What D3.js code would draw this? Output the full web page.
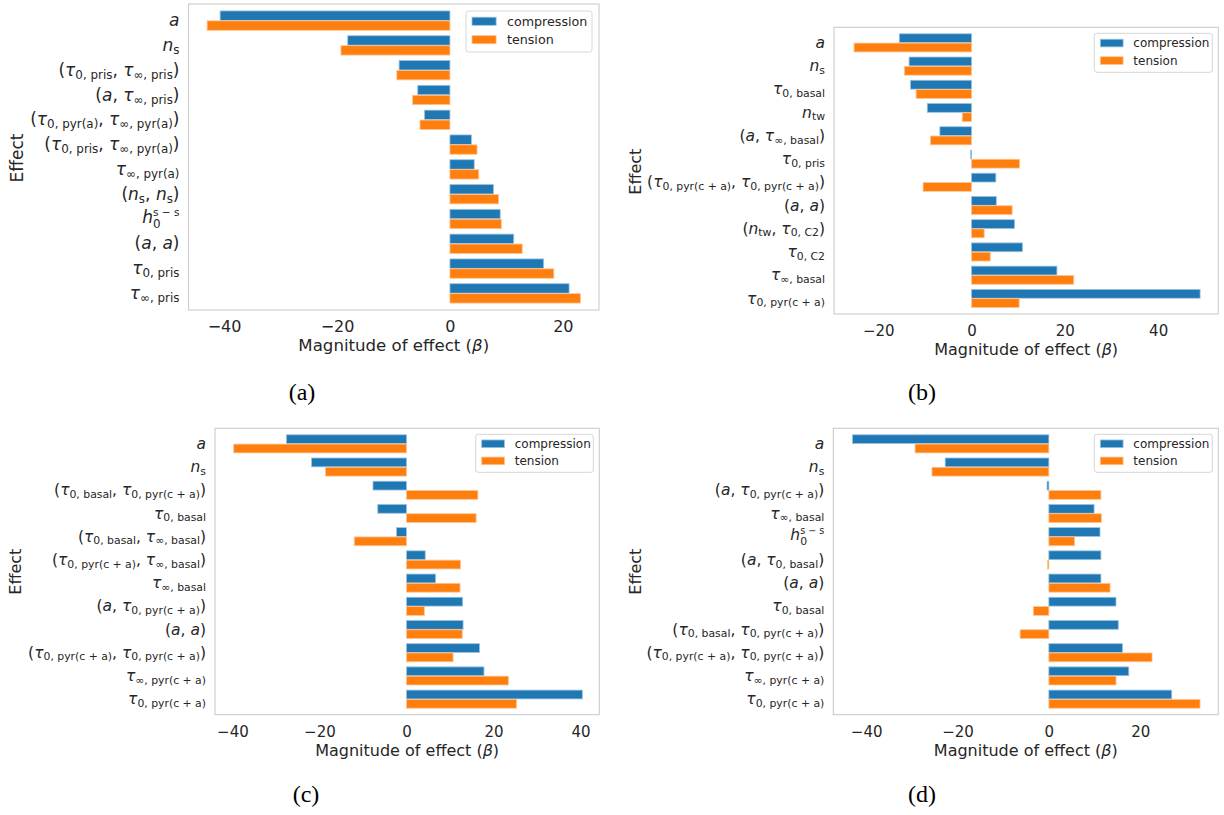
<!DOCTYPE html>
<html><head><meta charset="utf-8">
<script src="https://cdn.jsdelivr.net/npm/d3@7"></script>
<style>body{margin:0;background:#fff}svg{display:block}</style>
</head><body>
<svg id="chart" width="1224" height="815"></svg>
<script>
// ---------------- DATA ----------------
const seriesNames = ["compression", "tension"];

const categoriesA = ["a","n_{s}","(τ_{0, pris}, τ_{∞, pris})","(a, τ_{∞, pris})","(τ_{0, pyr(a)}, τ_{∞, pyr(a)})","(τ_{0, pris}, τ_{∞, pyr(a)})","τ_{∞, pyr(a)}","(n_{s}, n_{s})","h_{0}^{s − s}","(a, a)","τ_{0, pris}","τ_{∞, pris}"];
const compressionA = [-40.7,-18.1,-9.0,-5.7,-4.5,3.8,4.3,7.7,8.9,11.3,16.6,21.1];
const tensionA     = [-43.0,-19.3,-9.4,-6.6,-5.3,4.8,5.1,8.6,9.1,12.8,18.4,23.1];
const ticksA = [-40,-20,0,20];

const categoriesB = ["a","n_{s}","τ_{0, basal}","n_{tw}","(a, τ_{∞, basal})","τ_{0, pris}","(τ_{0, pyr(c + a)}, τ_{0, pyr(c + a)})","(a, a)","(n_{tw}, τ_{0, C2})","τ_{0, C2}","τ_{∞, basal}","τ_{0, pyr(c + a)}"];
const compressionB = [-15.5,-13.4,-13.1,-9.5,-6.8,-0.2,5.2,5.3,9.2,10.9,18.3,49.0];
const tensionB     = [-25.2,-14.4,-11.9,-2.0,-8.8,10.3,-10.4,8.7,2.7,4.0,21.9,10.2];
const ticksB = [-20,0,20,40];

const categoriesC = ["a","n_{s}","(τ_{0, basal}, τ_{0, pyr(c + a)})","τ_{0, basal}","(τ_{0, basal}, τ_{∞, basal})","(τ_{0, pyr(c + a)}, τ_{∞, basal})","τ_{∞, basal}","(a, τ_{0, pyr(c + a)})","(a, a)","(τ_{0, pyr(c + a)}, τ_{0, pyr(c + a)})","τ_{∞, pyr(c + a)}","τ_{0, pyr(c + a)}"];
const compressionC = [-27.6,-21.8,-7.7,-6.6,-2.3,4.3,6.7,12.9,13.0,16.8,17.8,40.4];
const tensionC     = [-39.7,-18.6,16.4,16.0,-12.0,12.4,12.3,4.1,12.8,10.7,23.4,25.3];
const ticksC = [-40,-20,0,20,40];

const categoriesD = ["a","n_{s}","(a, τ_{0, pyr(c + a)})","τ_{∞, basal}","h_{0}^{s − s}","(a, τ_{0, basal})","(a, a)","τ_{0, basal}","(τ_{0, basal}, τ_{0, pyr(c + a)})","(τ_{0, pyr(c + a)}, τ_{0, pyr(c + a)})","τ_{∞, pyr(c + a)}","τ_{0, pyr(c + a)}"];
const compressionD = [-43.0,-22.7,-0.4,9.9,11.2,11.4,11.4,14.7,15.2,16.1,17.5,26.9];
const tensionD     = [-29.3,-25.6,11.4,11.5,5.6,-0.3,13.4,-3.4,-6.3,22.6,14.7,33.1];
const ticksD = [-40,-20,0,20];

const panelLabels = ["(a)","(b)","(c)","(d)"];

// ---------------- LAYOUT ----------------
const colors = ["#1f77b4","#ff7f0e"];
const edgeColors = ["#9cc3e0","#ffc494"];
const textColor = "#262626";
const FONT = "'DejaVu Sans', sans-serif";

const panels = [
  {cats:categoriesA, comp:compressionA, tens:tensionA, ticks:ticksA, label:panelLabels[0],
   box:{l:188.5,r:599,t:4,b:310}, dom:[-46.3,26.4],
   fsTick:16, fsAxis:16.6, fsY:17, fsLeg:12.7, fsEff:17,
   leg:{x:466,y:11,w:126,h:41}, eff:{x:17,y:158}, plabel:{x:302,y:400}},
  {cats:categoriesB, comp:compressionB, tens:tensionB, ticks:ticksB, label:panelLabels[1],
   box:{l:834,r:1218.3,t:27.3,b:314}, dom:[-29.5,52.9],
   fsTick:15, fsAxis:16, fsY:15.5, fsLeg:12, fsEff:16,
   leg:{x:1094.3,y:33.3,w:118,h:39}, eff:{x:635,y:171.7}, plabel:{x:922,y:400}},
  {cats:categoriesC, comp:compressionC, tens:tensionC, ticks:ticksC, label:panelLabels[2],
   box:{l:215,r:599.3,t:428.3,b:714.7}, dom:[-44.0,44.3],
   fsTick:15, fsAxis:16, fsY:15.5, fsLeg:12, fsEff:16,
   leg:{x:475.7,y:434.3,w:117.6,h:38}, eff:{x:15,y:571.7}, plabel:{x:306,y:802}},
  {cats:categoriesD, comp:compressionD, tens:tensionD, ticks:ticksD, label:panelLabels[3],
   box:{l:833.3,r:1218.3,t:428.3,b:714.7}, dom:[-47.2,37.1],
   fsTick:15, fsAxis:16, fsY:15.5, fsLeg:12, fsEff:16,
   leg:{x:1094.3,y:434.3,w:118,h:38}, eff:{x:635,y:571.7}, plabel:{x:922,y:802}}
];

const svg = d3.select("#chart");
svg.append("rect").attr("width",1224).attr("height",815).attr("fill","#fff");

// math-like label renderer
function mathText(textSel, str, fs){
  const segs=[];
  let i=0;
  while(i<str.length){
    const c=str[i];
    if((c==='_'||c==='^') && str[i+1]==='{'){
      const close=str.indexOf('}',i);
      segs.push({t:str.slice(i+2,close), kind:c});
      i=close+1;
    } else { segs.push({t:c, kind:'m'}); i++; }
  }
  const stacked = str.includes('^{');
  let shift=0; let lastSub=null;
  const subFs = fs*0.7;
  segs.forEach((s,k)=>{
    const ts = textSel.append("tspan");
    if(s.kind==='m'){
      const italic = /[a-zA-Zτ]/.test(s.t);
      ts.text(s.t).style("font-style", italic?"italic":"normal").attr("font-size",fs);
      if(shift!==0){ ts.attr("dy",-shift); shift=0; }
      lastSub=null;
    } else if(s.kind==='_'){
      const target = fs*(stacked?0.3:0.17);
      ts.text(s.t).attr("font-size",subFs).style("font-style","normal").attr("dy",target-shift);
      shift=target; lastSub=ts;
    } else {
      const target = -fs*0.42;
      ts.text(s.t).attr("font-size",fs*0.62).style("font-style","normal").attr("dy",target-shift);
      if(lastSub){ ts.attr("dx", -lastSub.node().getComputedTextLength()); }
      shift=target; lastSub=null;
    }
  });
  return stacked;
}

panels.forEach(p=>{
  const g = svg.append("g");
  const x = d3.scaleLinear().domain(p.dom).range([p.box.l,p.box.r]);
  const n = p.cats.length;
  const y = d3.scaleLinear().domain([-0.67, n-1+0.67]).range([p.box.t,p.box.b]);
  const step = y(1)-y(0);
  const bh = step*0.38;

  // frame
  g.append("rect").attr("x",p.box.l).attr("y",p.box.t)
    .attr("width",p.box.r-p.box.l).attr("height",p.box.b-p.box.t)
    .attr("fill","none").attr("stroke","#cccccc").attr("stroke-width",1.1);

  // bars
  [p.comp,p.tens].forEach((vals,si)=>{
    g.append("g").selectAll("rect").data(vals).join("rect")
      .attr("x",d=>x(Math.min(0,d)))
      .attr("width",d=>Math.abs(x(d)-x(0)))
      .attr("y",(d,i)=>y(i)+(si===0?-0.2:0.2)*step-bh/2)
      .attr("height",bh)
      .attr("fill",colors[si])
      .attr("stroke",edgeColors[si]).attr("stroke-width",0.8);
  });

  // x axis
  const ax = g.append("g").attr("transform",`translate(0,${p.box.b})`)
    .call(d3.axisBottom(x).tickValues(p.ticks).tickSize(0).tickPadding(8)
      .tickFormat(d=> d<0 ? "\u2212"+Math.abs(d) : String(d)));
  ax.select(".domain").remove();
  ax.selectAll("text").attr("font-family",FONT).attr("font-size",p.fsTick)
    .attr("fill",textColor).attr("dy",null).attr("y",22).attr("dominant-baseline","auto");

  // x label
  const xl = g.append("text").attr("x",(p.box.l+p.box.r)/2).attr("y",p.box.b+41)
    .attr("text-anchor","middle").attr("font-family",FONT).attr("font-size",p.fsAxis)
    .attr("fill",textColor);
  xl.append("tspan").text("Magnitude of effect (");
  xl.append("tspan").text("β").style("font-style","italic");
  xl.append("tspan").text(")");

  // y tick labels
  p.cats.forEach((c,i)=>{
    const t = g.append("text").attr("x",p.box.l-9).attr("y",y(i)+p.fsY*0.33)
      .attr("text-anchor","end").attr("font-family",FONT).attr("fill",textColor)
      .attr("font-size",p.fsY);
    const st = mathText(t,c,p.fsY);
    if(st) t.attr("y", y(i)+p.fsY*0.22);
  });

  // y label
  g.append("text").attr("transform",`translate(${p.eff.x+p.fsEff*0.36},${p.eff.y}) rotate(-90)`)
    .attr("text-anchor","middle").attr("font-family",FONT).attr("font-size",p.fsEff)
    .attr("fill",textColor).text("Effect");

  // legend
  const lg = g.append("g");
  lg.append("rect").attr("x",p.leg.x).attr("y",p.leg.y).attr("width",p.leg.w).attr("height",p.leg.h)
    .attr("rx",2.5).attr("fill","#fff").attr("fill-opacity",0.8).attr("stroke","#d6d6d6").attr("stroke-width",1);
  seriesNames.forEach((s,si)=>{
    const cy = p.leg.y + p.leg.h*(si===0?0.25:0.7);
    const sw = p.fsLeg*1.9;
    lg.append("rect").attr("x",p.leg.x+6).attr("y",cy-p.fsLeg*0.32).attr("width",sw).attr("height",p.fsLeg*0.64)
      .attr("fill",colors[si]).attr("stroke",edgeColors[si]).attr("stroke-width",0.8);
    lg.append("text").attr("x",p.leg.x+6+sw+p.fsLeg*0.85).attr("y",cy+p.fsLeg*0.36)
      .attr("font-family",FONT).attr("font-size",p.fsLeg).attr("fill",textColor).text(s);
  });

  // panel label
  svg.append("text").attr("x",p.plabel.x).attr("y",p.plabel.y).attr("text-anchor","middle")
    .attr("font-family","'Liberation Serif', serif").attr("font-size",24).attr("fill","#000").text(p.label);
});
</script>
</body></html>
